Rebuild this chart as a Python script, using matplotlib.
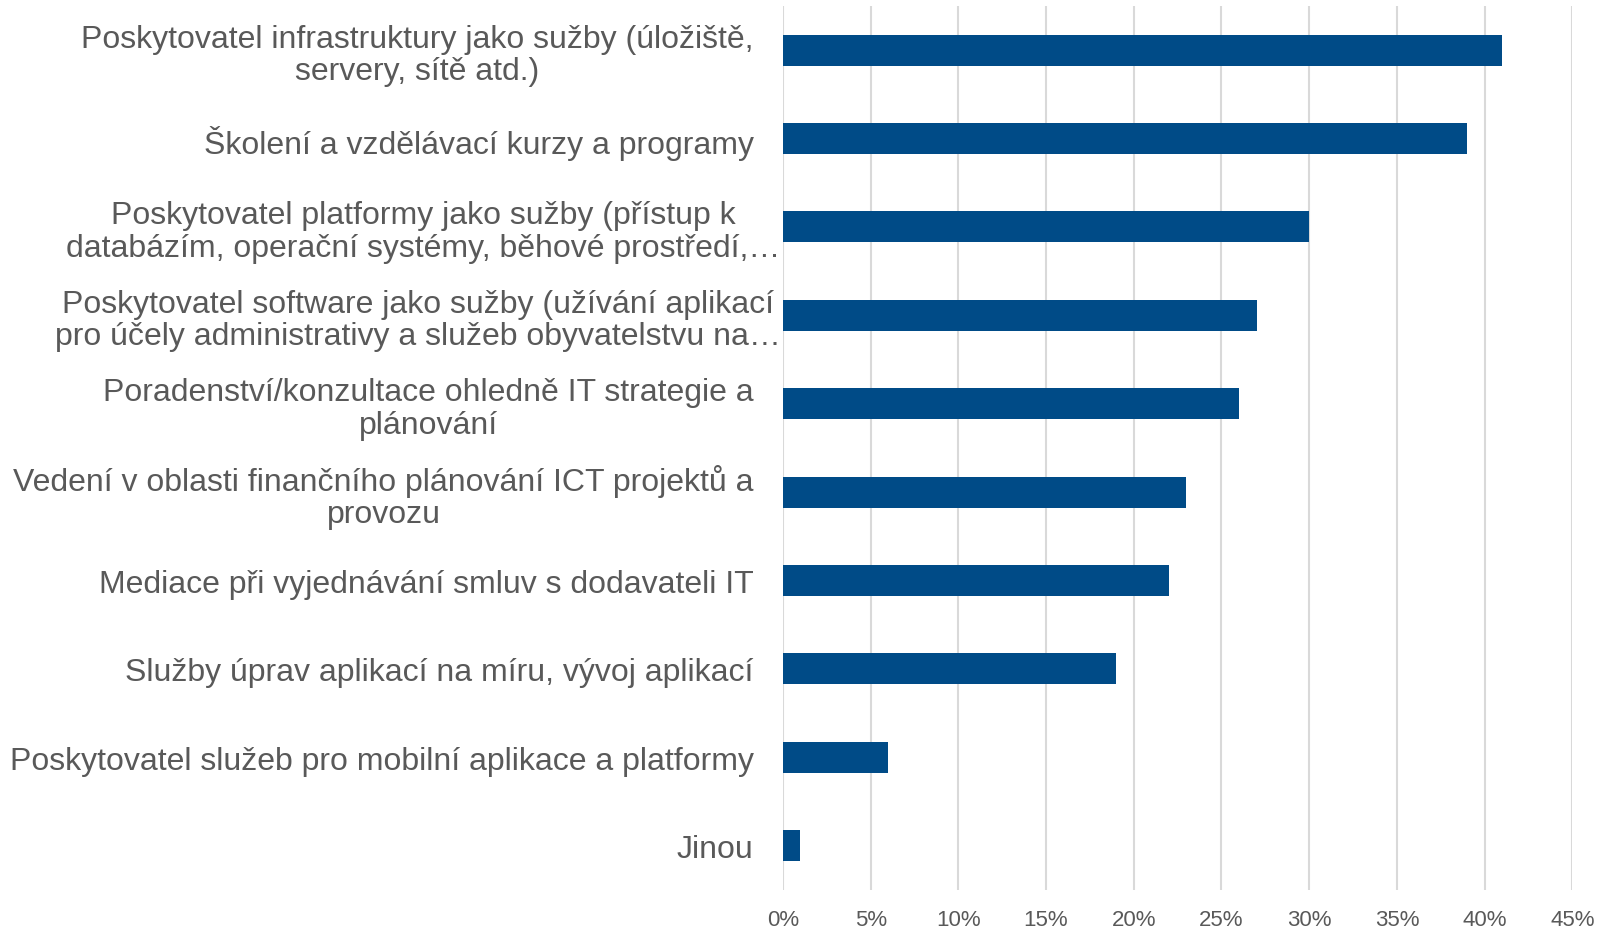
import matplotlib
matplotlib.use("Agg")
import matplotlib.pyplot as plt
import matplotlib.transforms as mtransforms
from matplotlib.ticker import FuncFormatter

categories = [
    "Poskytovatel infrastruktury jako sužby (úložiště,\nservery, sítě atd.)",
    "Školení a vzdělávací kurzy a programy",
    "Poskytovatel platformy jako sužby (přístup k\ndatabázím, operační systémy, běhové prostředí,…",
    "Poskytovatel software jako sužby (užívání aplikací\npro účely administrativy a služeb obyvatelstvu na…",
    "Poradenství/konzultace ohledně IT strategie a\nplánování",
    "Vedení v oblasti finančního plánování ICT projektů a\nprovozu",
    "Mediace při vyjednávání smluv s dodavateli IT",
    "Služby úprav aplikací na míru, vývoj aplikací",
    "Poskytovatel služeb pro mobilní aplikace a platformy",
    "Jinou",
]
values = [41, 39, 30, 27, 26, 23, 22, 19, 6, 1]
truncated = [2, 3]

bar_color = "#004B87"
text_color = "#595959"
grid_color = "#D9D9D9"

plt.rcParams["font.family"] = ["Liberation Sans", "DejaVu Sans"]

fig = plt.figure(figsize=(16.06, 9.29), dpi=100)
ax = fig.add_axes([0.4875, 0.041, 0.4915, 0.9515])

ypos = list(range(len(categories)))
ax.barh(ypos, values, height=0.35, color=bar_color, zorder=3)

ax.set_xlim(0, 45)
ax.set_ylim(len(categories) - 0.5, -0.5)
ax.set_xticks(range(0, 46, 5))
ax.xaxis.set_major_formatter(FuncFormatter(lambda v, p: f"{int(v)}%"))
ax.set_yticks(ypos)
ax.set_yticklabels(categories, multialignment="center", linespacing=1.1)

ax.tick_params(axis="y", length=0, pad=21, labelsize=23, labelcolor=text_color)
ax.tick_params(axis="x", length=0, pad=14, labelsize=16, labelcolor=text_color)

ax.grid(axis="x", color=grid_color, linewidth=1.5, zorder=0)
for s in ax.spines.values():
    s.set_visible(False)

offset = mtransforms.ScaledTranslation(27 / 100, 0, fig.dpi_scale_trans)
for i, lab in enumerate(ax.get_yticklabels()):
    if i in truncated:
        lab.set_transform(lab.get_transform() + offset)

fig.savefig("out.png", dpi=100)
